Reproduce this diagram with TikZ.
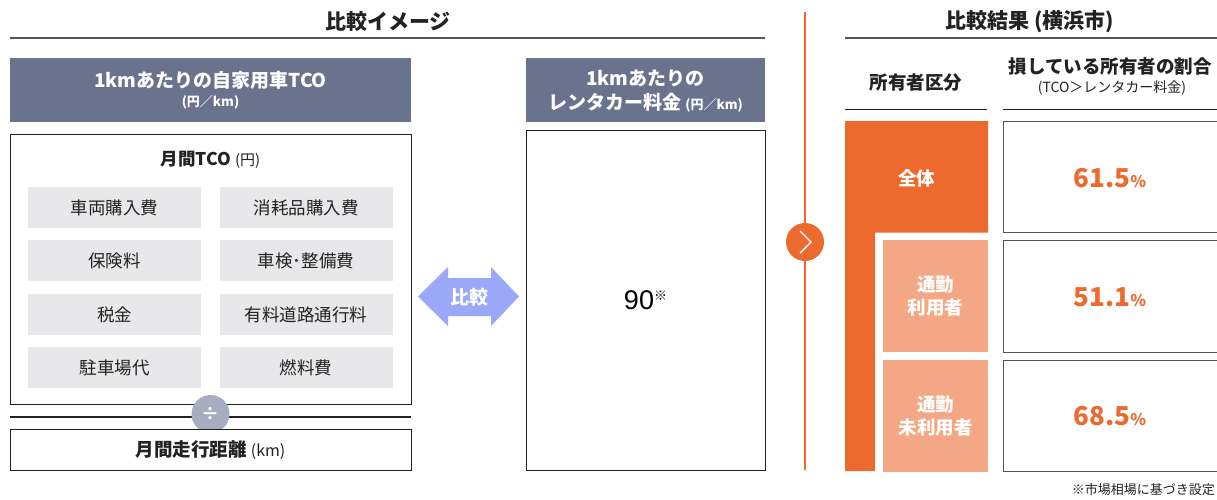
\documentclass[tikz,border=0pt]{standalone}
\usepackage{fontspec}
\setmainfont{Noto Sans CJK JP}
\newfontfamily\arialf{Liberation Sans}
\usetikzlibrary{positioning}
\definecolor{slate}{HTML}{6A738E}
\definecolor{cellgray}{HTML}{E8E8EA}
\definecolor{divgray}{HTML}{A6ADBE}
\definecolor{cmpblue}{HTML}{9BA7F8}
\definecolor{orng}{HTML}{ED6A2E}
\definecolor{lorng}{HTML}{F3A784}
\definecolor{ink}{HTML}{222222}
\definecolor{rule}{HTML}{555555}
\newcommand{\fs}[1]{\fontsize{#1}{#1}\selectfont}
\tikzset{
  title/.style={font=\fs{21}\bfseries, text=ink, inner sep=0},
  hdrbox/.style={fill=slate, draw=none},
  hdrtxt/.style={text=white, font=\fs{19}\bfseries, align=center, inner sep=0},
  frame/.style={draw=ink, line width=0.9pt, fill=white},
  cell/.style={fill=cellgray, draw=none, minimum width=173pt, minimum height=41pt, font=\fs{17.5}, text=ink, inner sep=0},
  coltitle/.style={font=\fs{18.5}\bfseries, text=ink, align=center, inner sep=0},
  orangebox/.style={fill=orng, draw=none},
  lbox/.style={fill=lorng, draw=none, minimum width=105pt, minimum height=112pt, text=white, font=\fs{18.5}\bfseries, align=center, inner sep=0},
  valbox/.style={draw=rule, line width=0.9pt, fill=white},
  val/.style={text=orng, font=\fs{26}\bfseries, inner sep=0},
  rulel/.style={draw=ink, line width=0.9pt},
}
\begin{document}
\begin{tikzpicture}[x=1pt,y=-1pt]
\useasboundingbox[fill=white] (0,0) rectangle (1217,499);

% ---------- left part ----------
\node[title] (t1) at (388,22) {比較イメージ};
\draw[draw=rule, line width=1.2pt] (10,38) -- (765,38);

\fill[hdrbox] (10,58) rectangle (411,122);
\node[hdrtxt] (h1) at (210.5,80) {1kmあたりの自家用車TCO};
\node[hdrtxt, font=\fs{13}\bfseries] (h1b) at (210.5,102) {(円／km)};

\draw[frame] (10,134) rectangle (411,404);
\node[coltitle, font=\fs{17.5}\bfseries] (mtco) at (210.5,160) {月間TCO {\fs{15}\mdseries (円)}};

\node[cell] (c11) at (114.5,207.5) {車両購入費};
\node[cell] (c12) at (306,207.5) {消耗品購入費};
\node[cell] (c21) at (114.5,260.5) {保険料};
\node[cell] (c22) at (306,260.5) {車検･整備費};
\node[cell] (c31) at (114.5,314.5) {税金};
\node[cell] (c32) at (306,314.5) {有料道路通行料};
\node[cell] (c41) at (114.5,367.5) {駐車場代};
\node[cell] (c42) at (306,367.5) {燃料費};

\coordinate (dl) at (10,417);
\coordinate (dr) at (411,417);
\draw[draw=ink, line width=2pt] (dl) -- (dr);
\node[circle, fill=divgray, minimum size=38pt, inner sep=0, text=white, font=\fs{18}\bfseries] (div) at (210.5,414) {÷};

\draw[frame] (10,429) rectangle (411,470);
\node[coltitle] (km) at (210.5,450) {月間走行距離 {\fs{16}\mdseries (km)}};

% compare arrow
\fill[cmpblue] (418,296.5) -- (448,267) -- (448,278) -- (491,278) -- (491,267) -- (519,296.5)
  -- (491,326) -- (491,316) -- (448,316) -- (448,326) -- cycle;
\node[text=white, font=\fs{19}\bfseries, inner sep=0] (cmp) at (469,297) {比較};

\fill[hdrbox] (526,58) rectangle (765,122);
\node[hdrtxt] (h2) at (645.5,78) {1kmあたりの};
\node[hdrtxt] (h2b) at (645.5,103) {レンタカー料金 {\fs{13}(円／km)}};

\draw[frame] (526,130) rectangle (765,470);
\node[inner sep=0, font=\fs{27}\arialf, text=black] (ninety) at (645.5,300) {90\raisebox{9pt}{\fs{13}\rmfamily ※}};

% ---------- separator ----------
\coordinate (vt) at (805,12);
\coordinate (vb) at (805,470);
\draw[orng, line width=1.2pt] (vt) -- (vb);
\node[circle, fill=orng, minimum size=38pt, inner sep=0] (go) at (805,242) {};
\draw[white, line width=1.4pt] ([xshift=-5pt,yshift=-11pt]go.center) -- ([xshift=6pt]go.center) -- ([xshift=-5pt,yshift=11pt]go.center);

% ---------- right part ----------
\node[title] (t2) at (1030,22) {比較結果 (横浜市)};
\draw[draw=rule, line width=1.2pt] (845,38) -- (1225,38);

\node[coltitle] (ch1) at (916,83) {所有者区分};
\draw[rulel] (845,109) -- (987,109);
\node[coltitle] (ch2) at (1110,66) {損している所有者の割合};
\node[inner sep=0, font=\fs{14}, text=ink] (ch2b) at (1112,88) {(TCO＞レンタカー料金)};
\draw[rulel] (1003,109) -- (1225,109);

\fill[orangebox] (845,121) -- (988,121) -- (988,232.5) -- (875,232.5) -- (875,471) -- (845,471) -- cycle;
\node[text=white, font=\fs{18.5}\bfseries, inner sep=0] (all) at (916.5,178) {全体};
\node[lbox] (u1) at (935.5,296) {通勤\\[4pt]利用者};
\node[lbox] (u2) at (935.5,416) {通勤\\[4pt]未利用者};

\draw[valbox] (1003,121) rectangle (1230,232);
\draw[valbox] (1003,240) rectangle (1230,352);
\draw[valbox] (1003,360) rectangle (1230,471);
\node[val] (v1) at (1110,178) {61.5{\fs{16}\%}};
\node[val] (v2) at (1110,297) {51.1{\fs{16}\%}};
\node[val] (v3) at (1110,416) {68.5{\fs{16}\%}};

\node[anchor=east, inner sep=0, font=\fs{13}, text=ink] (note) at (1215,490) {※市場相場に基づき設定};
\end{tikzpicture}
\end{document}
